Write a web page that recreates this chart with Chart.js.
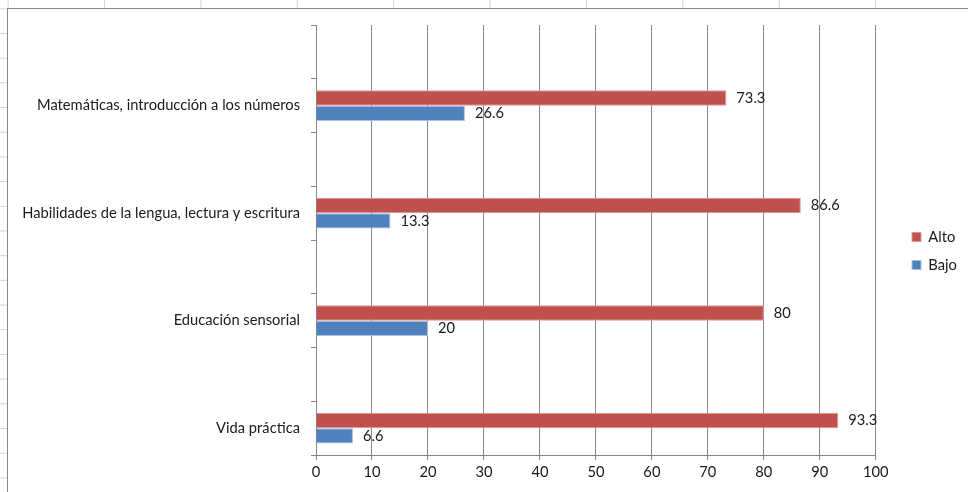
<!DOCTYPE html>
<html>
<head>
<meta charset="utf-8">
<script src="https://cdn.jsdelivr.net/npm/chart.js@4.4.1/dist/chart.umd.min.js"></script>
<style>
  html, body { margin: 0; padding: 0; }
  body {
    width: 968px; height: 492px; overflow: hidden; position: relative;
    background-color: #fff;
    background-image:
      linear-gradient(to right, #d4d4d4 1px, transparent 1px),
      linear-gradient(to bottom, #d4d4d4 1px, transparent 1px);
    background-size: 96.4px 24.7px, 96.4px 24.7px;
    background-position: 104px 8.3px, 104px 8.3px;
  }
  #frame {
    position: absolute; left: 7px; top: 8px; width: 961px; height: 484px;
    border-top: 1px solid #8a8a8a; border-left: 1px solid #8a8a8a;
    background: #fff;
  }
</style>
</head>
<body>
<div id="frame"><canvas id="chart"></canvas></div>
<script>
// categories, top to bottom as shown
const categories = [
  "Matemáticas, introducción a los números",
  "Habilidades de la lengua, lectura y escritura",
  "Educación sensorial",
  "Vida práctica"
];
const alto = [73.3, 86.6, 80, 93.3];
const bajo = [26.6, 13.3, 20, 6.6];
const seriesNames = ["Alto", "Bajo"];
const xMin = 0, xMax = 100, xStep = 10;

// Excel sheet has an empty row before each category
const rowLabels = categories.flatMap(c => ["", c]);
const altoRows = alto.flatMap(v => [null, v]);
const bajoRows = bajo.flatMap(v => [null, v]);

const FONT = "Lato";
const FONT_SIZE = 14.7;
const textColor = "#1a1a1a";
const gridColor = "#878787";

const valueLabels = {
  id: "valueLabels",
  afterDatasetsDraw(chart) {
    const ctx = chart.ctx;
    ctx.save();
    ctx.font = FONT_SIZE + "px " + FONT;
    ctx.fillStyle = textColor;
    ctx.textAlign = "left";
    ctx.textBaseline = "middle";
    chart.data.datasets.forEach((ds, i) => {
      chart.getDatasetMeta(i).data.forEach((bar, j) => {
        const v = ds.data[j];
        if (v === null) return;
        ctx.fillText(String(v), bar.x + 10, bar.y);
      });
    });
    ctx.restore();
  }
};

// move the legend a bit further out, like Excel does
const legendNudge = {
  id: "legendNudge",
  afterLayout(chart) {
    const lg = chart.legend;
    const dx = 904 - (lg.left + lg.options.labels.padding);
    const dy = -3;
    lg.left += dx; lg.right += dx;
    lg.top += dy; lg.bottom += dy;
  }
};

new Chart(document.getElementById("chart"), {
  type: "bar",
  data: {
    labels: rowLabels,
    datasets: [
      { label: seriesNames[0], data: altoRows, backgroundColor: "#c0504d", borderColor: "#dc9694", borderWidth: 1 },
      { label: seriesNames[1], data: bajoRows, backgroundColor: "#4f81bd", borderColor: "#a5bfdf", borderWidth: 1 }
    ]
  },
  options: {
    indexAxis: "y",
    responsive: true,
    maintainAspectRatio: false,
    animation: false,
    categoryPercentage: 0.57,
    barPercentage: 1.0,
    layout: { padding: { left: 8, top: 16, right: 25, bottom: 10 } },
    scales: {
      x: {
        type: "linear",
        min: xMin, max: xMax,
        ticks: { stepSize: xStep, color: textColor, font: { family: FONT, size: FONT_SIZE }, padding: 3 },
        grid: { color: gridColor, tickLength: 5 },
        border: { color: gridColor },
        afterFit(scale) { scale.height = 28; }
      },
      y: {
        type: "category",
        ticks: { autoSkip: false, color: textColor, font: { family: FONT, size: FONT_SIZE }, padding: 11 },
        grid: { drawOnChartArea: false, offset: true, color: gridColor, tickLength: 5 },
        border: { color: gridColor },
        afterFit(scale) { scale.width = 300; scale.paddingTop = 0; scale.paddingBottom = 0; }
      }
    },
    plugins: {
      legend: {
        position: "right",
        labels: { boxWidth: 9, boxHeight: 9, padding: 13.3, color: textColor, font: { family: FONT, size: FONT_SIZE } }
      },
      tooltip: { enabled: false }
    }
  },
  plugins: [valueLabels, legendNudge]
});
</script>
</body>
</html>
